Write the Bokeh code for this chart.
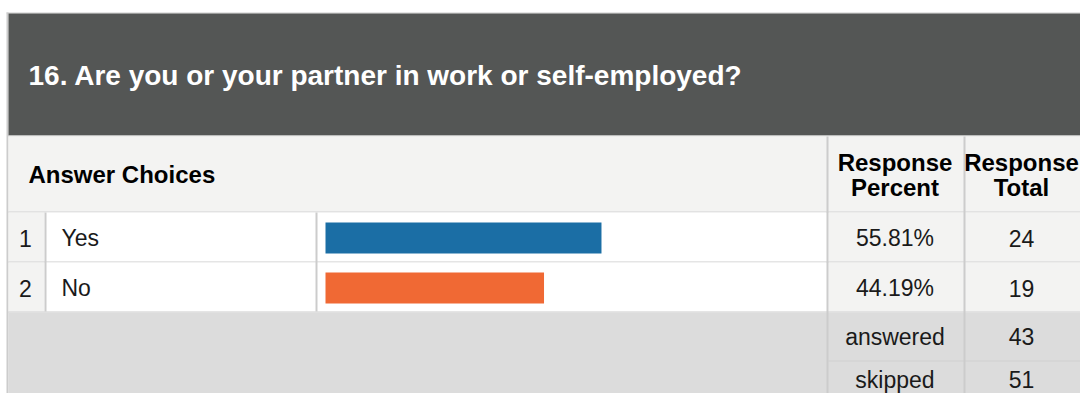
from bokeh.plotting import figure
from bokeh.models import Range1d, ColumnDataSource
from bokeh.core.properties import value
from bokeh.embed import file_html
from bokeh.resources import INLINE

# ---- data ----
title = "16. Are you or your partner in work or self-employed?"
header_choice = "Answer Choices"
header_pct = ["Response", "Percent"]
header_tot = ["Response", "Total"]
row_numbers = ["1", "2"]
choices = ["Yes", "No"]
percents = [55.81, 44.19]
totals = [24, 19]
bar_colors = ["#1b6ea5", "#f06934"]
summary_labels = ["answered", "skipped"]
summary_values = [43, 51]

# ---- layout (pixel coordinates) ----
W, H = 1080, 393
FONT = "Liberation Sans"

p = figure(width=W, height=H, x_range=Range1d(0, W), y_range=Range1d(H, 0),
           output_backend="svg", toolbar_location=None, min_border=0,
           background_fill_color="white", border_fill_color="white")
p.axis.visible = False
p.grid.visible = False
p.outline_line_color = None

GRID = "#cccccc"
LIGHT = "#f3f3f2"
DARK = "#545655"
FOOT = "#dcdcdc"

def box(l, r, t, b, c):
    p.quad(left=l, right=r, top=t, bottom=b, fill_color=c, line_color=None)

RIGHT = 1100
col_num = (8, 44)
col_bar = (317, 826)
col_pct = (828, 963)

header_top, header_bot = 136, 211
row_tops = [212, 262]
row_h = 49
foot_tops = [312, 361]

# outer border
box(6, RIGHT, 12, 13, GRID)
box(6, 8, 12, 410, GRID)
# dark title band
box(8, RIGHT, 13, 135, DARK)
box(8, RIGHT, 135, 136, "#cfcfcf")
# header row
box(8, RIGHT, header_top, header_bot, LIGHT)
box(8, RIGHT, header_bot, header_bot + 1, GRID)
# data rows
for i, top in enumerate(row_tops):
    bot = top + row_h
    box(*col_num, top, bot, LIGHT)
    box(col_num[1], col_bar[1], top, bot, "white")
    box(col_pct[0], RIGHT, top, bot, LIGHT)
    box(8, RIGHT, bot, bot + 1, GRID)
# footer
box(8, RIGHT, foot_tops[0], 410, FOOT)
box(col_pct[0], RIGHT, foot_tops[1] - 1, foot_tops[1], "#d0d0d0")

# vertical separators
box(44, 46, row_tops[0], row_tops[-1] + row_h, GRID)
box(315, 317, row_tops[0], row_tops[-1] + row_h, GRID)
box(826, 828, header_top, 410, GRID)
box(963, 965, header_top, 410, GRID)

# bars (scaled from percent values)
bar_left = 325
bar_full = 494.5
row_centers = [t + row_h / 2 for t in row_tops]
src = ColumnDataSource(dict(y=[c + 1 for c in row_centers],
                            right=[bar_left + v / 100 * bar_full for v in percents],
                            color=bar_colors))
p.hbar(y="y", left=bar_left, right="right", height=31, fill_color="color",
       line_color=None, source=src)

pct_x = (col_pct[0] + col_pct[1]) / 2 - 1
tot_x = 1021

def txt(x, y, s, size, bold=False, align="left", color="#1a1a1a"):
    p.text(x=[x], y=[y], text=[s], text_font=value(FONT), text_font_size=size,
           text_font_style="bold" if bold else "normal", text_align=align,
           text_baseline="middle", text_color=color)

# title
txt(28, 75, title, "28px", bold=True, color="white")
# header
txt(28, 174, header_choice, "24px", bold=True, color="black")
txt(pct_x, 162, header_pct[0], "24px", bold=True, align="center", color="black")
txt(pct_x, 187, header_pct[1], "24px", bold=True, align="center", color="black")
txt(tot_x, 162, header_tot[0], "24px", bold=True, align="center", color="black")
txt(tot_x, 187, header_tot[1], "24px", bold=True, align="center", color="black")

# rows
for i, c in enumerate(row_centers):
    cy = c + 1
    txt(25, cy, row_numbers[i], "23px", align="center")
    txt(61, cy, choices[i], "23px")
    txt(pct_x, cy, f"{percents[i]:.2f}%", "23px", align="center")
    txt(tot_x, cy, str(totals[i]), "23px", align="center")

# summary
summary_cy = [336, 379]
for i in range(len(summary_labels)):
    txt(pct_x, summary_cy[i], summary_labels[i], "23px", align="center")
    txt(tot_x, summary_cy[i], str(summary_values[i]), "23px", align="center")

open("out.html", "w").write(file_html(p, INLINE))
